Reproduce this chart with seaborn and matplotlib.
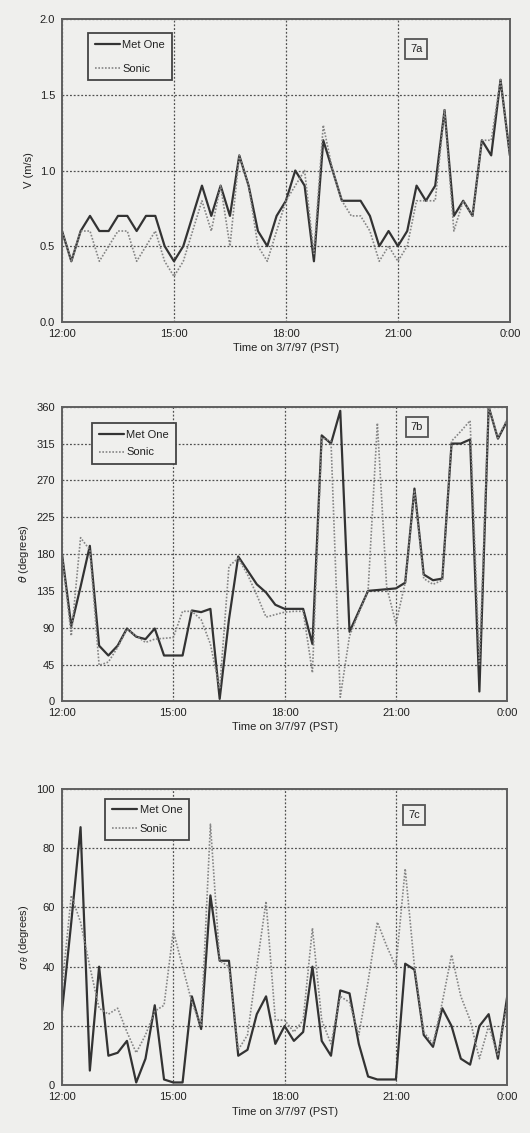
import numpy as np
import pandas as pd
import matplotlib
matplotlib.use("Agg")
import matplotlib.pyplot as plt
import seaborn as sns

# 15-minute samples from 12:00 to 0:00 on 3/7/97
hours = np.arange(12, 24.001, 0.25)
tick_hours = [12, 15, 18, 21, 24]
tick_labels = ["12:00", "15:00", "18:00", "21:00", "0:00"]

# wind speed (m/s)
v_metone = [0.6, 0.4, 0.6, 0.7, 0.6, 0.6, 0.7, 0.7, 0.6, 0.7, 0.7, 0.5, 0.4,
            0.5, 0.7, 0.9, 0.7, 0.9, 0.7, 1.1, 0.9, 0.6, 0.5, 0.7, 0.8,
            1.0, 0.9, 0.4, 1.2, 1.0, 0.8, 0.8, 0.8, 0.7, 0.5, 0.6, 0.5,
            0.6, 0.9, 0.8, 0.9, 1.4, 0.7, 0.8, 0.7, 1.2, 1.1, 1.6, 1.1]
v_sonic = [0.6, 0.4, 0.6, 0.6, 0.4, 0.5, 0.6, 0.6, 0.4, 0.5, 0.6, 0.4, 0.3,
           0.4, 0.6, 0.8, 0.6, 0.9, 0.5, 1.1, 0.9, 0.5, 0.4, 0.6, 0.8,
           0.9, 1.0, 0.45, 1.3, 1.0, 0.8, 0.7, 0.7, 0.6, 0.4, 0.5, 0.4,
           0.5, 0.8, 0.8, 0.8, 1.4, 0.6, 0.8, 0.7, 1.2, 1.2, 1.6, 1.1]

# wind direction (degrees)
th_metone = [180, 92, 140, 190, 68, 56, 68, 89, 79, 76, 89, 56, 56,
             56, 111, 109, 113, 3, 100, 177, 160, 143, 133, 118, 113,
             113, 113, 70, 325, 315, 355, 85, 110, 135, 136, 137, 138,
             145, 260, 155, 148, 150, 315, 315, 320, 12, 360, 321, 343]
th_sonic = [180, 80, 200, 185, 44, 48, 66, 88, 80, 72, 76, 77, 78,
            110, 110, 100, 70, 15, 165, 175, 155, 130, 103, 106, 109,
            110, 110, 35, 322, 318, 5, 80, 108, 135, 340, 140, 95,
            145, 258, 150, 143, 148, 318, 330, 343, 45, 360, 322, 345]

# sigma theta (degrees)
sg_metone = [25, 55, 87, 5, 40, 10, 11, 15, 1, 9, 27, 2, 1,
             1, 30, 19, 64, 42, 42, 10, 12, 24, 30, 14, 20,
             15, 18, 40, 15, 10, 32, 31, 14, 3, 2, 2, 2,
             41, 39, 17, 13, 26, 20, 9, 7, 20, 24, 9, 30]
sg_sonic = [33, 64, 55, 40, 26, 24, 26, 18, 11, 17, 25, 27, 52,
            40, 28, 20, 88, 42, 40, 12, 17, 40, 62, 22, 22,
            18, 22, 53, 22, 14, 30, 28, 17, 35, 55, 47, 40,
            73, 40, 18, 14, 28, 44, 30, 22, 9, 20, 10, 28]

panels = [
    (v_metone, v_sonic, "V (m/s)", (0, 2.0), np.arange(0, 2.01, 0.5), "7a", "{:.1f}"),
    (th_metone, th_sonic, r"$\theta$ (degrees)", (0, 360), np.arange(0, 361, 45), "7b", "{:.0f}"),
    (sg_metone, sg_sonic, r"$\sigma_{\,\theta}$ (degrees)", (0, 100), np.arange(0, 101, 20), "7c", "{:.0f}"),
]

sns.set_style("white")
plt.rcParams["font.family"] = ["Liberation Sans", "DejaVu Sans"]
plt.rcParams["mathtext.fontset"] = "dejavusans"

bg = "#efefed"
fig = plt.figure(figsize=(5.3, 11.33), dpi=100, facecolor=bg)
boxes = [
    [0.117, 0.716, 0.845, 0.267],
    [0.117, 0.381, 0.840, 0.260],
    [0.117, 0.042, 0.840, 0.262],
]
# legend anchor, label spacing, tag centre (axes fractions)
legend_pos = [(0.058, 0.954), (0.067, 0.945), (0.097, 0.966)]
legend_gap = [1.25, 0.7, 0.75]
tag_pos = [(0.791, 0.903), (0.797, 0.931), (0.791, 0.912)]

for (met, son, ylab, ylim, yticks, tag, fmt), box, lp, gap, tp in zip(
        panels, boxes, legend_pos, legend_gap, tag_pos):
    ax = fig.add_axes(box)
    ax.set_facecolor(bg)
    df = pd.DataFrame({"hour": hours, "Met One": met, "Sonic": son})
    sns.lineplot(data=df, x="hour", y="Met One", ax=ax, color="#333333",
                 linewidth=1.6, label="Met One")
    sns.lineplot(data=df, x="hour", y="Sonic", ax=ax, color="#858585",
                 linewidth=1.2, linestyle=(0, (1, 1)), label="Sonic")

    ax.set_xlim(12, 24)
    ax.set_ylim(*ylim)
    ax.set_xticks(tick_hours)
    ax.set_xticklabels(tick_labels, fontsize=8)
    ax.set_yticks(yticks)
    ax.set_yticklabels([fmt.format(t) for t in yticks], fontsize=8)
    ax.grid(True, color="#505050", linestyle=(0, (1.5, 1.5)), linewidth=0.9)
    ax.set_axisbelow(True)
    for s in ax.spines.values():
        s.set_color("#606060")
        s.set_linewidth(1.4)
    ax.tick_params(axis="both", direction="out", length=3, width=1,
                   color="#555555", pad=2, labelcolor="#222222")
    ax.set_xlabel("Time on 3/7/97 (PST)", fontsize=8, labelpad=3, color="#222222")
    ax.set_ylabel(ylab, fontsize=8, labelpad=4, color="#222222")

    leg = ax.legend(loc="upper left", bbox_to_anchor=lp, fontsize=8,
                    frameon=True, fancybox=False, handlelength=2.3,
                    handletextpad=0.2, borderpad=0.6, labelspacing=gap,
                    borderaxespad=0)
    leg.get_frame().set_edgecolor("#444444")
    leg.get_frame().set_linewidth(1.3)
    leg.get_frame().set_facecolor(bg)
    leg.get_frame().set_alpha(1)
    for t in leg.get_texts():
        t.set_color("#222222")

    ax.text(tp[0], tp[1], tag, transform=ax.transAxes, fontsize=8,
            ha="center", va="center", color="#222222",
            bbox=dict(boxstyle="square,pad=0.45", fc=bg, ec="#555555", lw=1.3))

fig.savefig("out.png", dpi=100, facecolor=bg)
